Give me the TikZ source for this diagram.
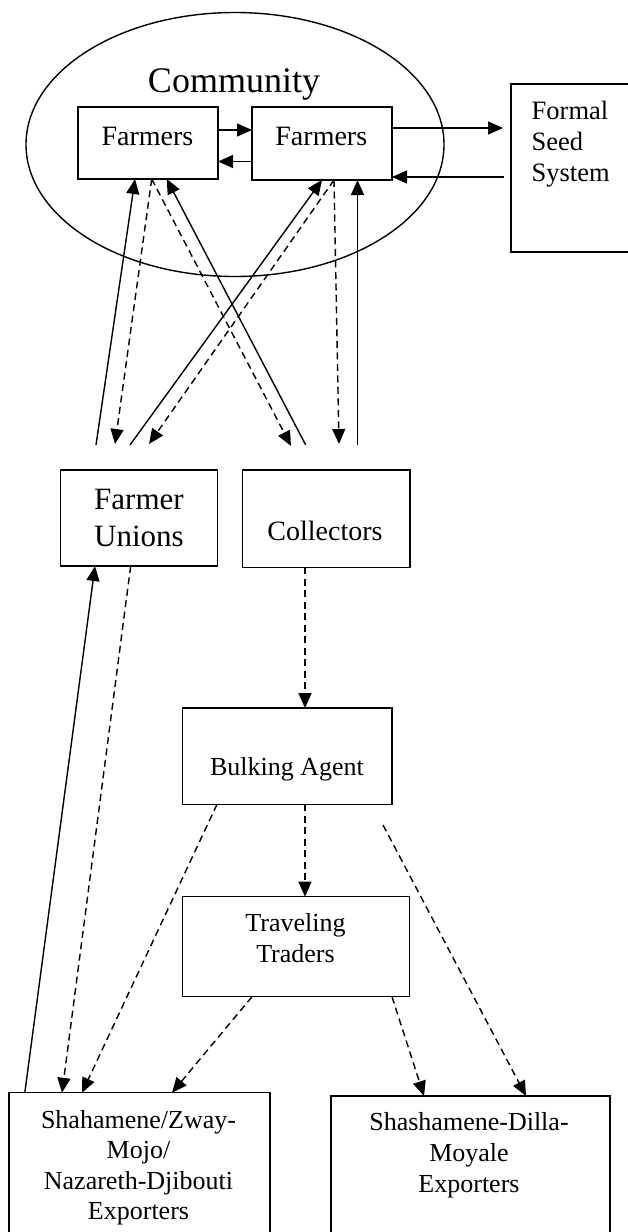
\documentclass[tikz,border=0pt]{standalone}
\usepackage{fontspec}
\setmainfont{Liberation Serif}
\usetikzlibrary{arrows.meta,shapes.geometric}
\begin{document}
\begin{tikzpicture}[x=1pt,y=-1pt,line width=1.4pt,
  box/.style={draw,rectangle,inner sep=0pt,outer sep=0pt},
  lbl/.style={anchor=base,align=center,inner sep=0pt},
  sol/.style={-{Triangle[length=15pt,width=13pt]}},
  dsh/.style={sol,dash pattern=on 7pt off 4.5pt}]
\useasboundingbox (0,0) rectangle (628,1232);

% community
\node[ellipse,draw,minimum width=418pt,minimum height=264pt,inner sep=0pt] (comm) at (235,144.5) {};
\node[lbl,font=\fontsize{36}{40}\selectfont] (commtxt) at (234,92) {Community};

% boxes
\node[box,minimum width=140pt,minimum height=72pt] (f1) at (148,143) {};
\node[box,minimum width=140pt,minimum height=73pt] (f2) at (322,143.5) {};
\node[box,minimum width=129pt,minimum height=168pt] (formal) at (575.5,168) {};
\node[box,minimum width=156.6pt,minimum height=96pt] (fu) at (139,518) {};
\node[box,minimum width=167.7pt,minimum height=97.3pt] (coll) at (326.2,518.7) {};
\node[box,minimum width=209.3pt,minimum height=96.3pt] (bulk) at (287.3,756.2) {};
\node[box,minimum width=226.9pt,minimum height=100pt] (trav) at (295.9,946.7) {};
\node[box,minimum width=261.2pt,minimum height=157.3pt] (shah) at (139.4,1171.4) {};
\node[box,minimum width=279pt,minimum height=154pt] (dilla) at (470.5,1173) {};

% texts (base anchor = baseline of the last line)
\node[lbl,font=\fontsize{28}{32}\selectfont] (f1txt) at (147.5,145) {Farmers};
\node[lbl,font=\fontsize{28}{32}\selectfont] (f2txt) at (321.3,145) {Farmers};
\node[anchor=base west,align=left,inner sep=0pt,font=\fontsize{26.5}{31}\selectfont] (formaltxt) at (531,181) {Formal\\Seed\\System};
\node[lbl,font=\fontsize{31}{37.4}\selectfont] (futxt) at (139,546.7) {Farmer\\Unions};
\node[lbl,font=\fontsize{28}{32}\selectfont] (colltxt) at (325,540) {Collectors};
\node[lbl,font=\fontsize{26}{30}\selectfont] (bulktxt) at (287,775) {Bulking Agent};
\node[lbl,font=\fontsize{26}{31}\selectfont] (travtxt) at (295.5,962.7) {Traveling\\Traders};
\node[lbl,font=\fontsize{26}{30.3}\selectfont] (shahtxt) at (138.5,1219.3) {Shahamene/Zway-\\Mojo/\\Nazareth-Djibouti\\Exporters};
\node[lbl,font=\fontsize{26}{31.3}\selectfont] (dillatxt) at (469,1192.7) {Shashamene-Dilla-\\Moyale\\Exporters};

% free ends
\coordinate (fuA) at (96,445);
\coordinate (fuB) at (115,444);
\coordinate (fuC) at (130,445);
\coordinate (fuD) at (149,444);
\coordinate (coA) at (291,446);
\coordinate (coB) at (305.7,445);
\coordinate (coC) at (339,444);
\coordinate (coD) at (357.5,445);
\coordinate (bulkR) at (383,825);

% farmers <-> farmers
\draw[sol] ([yshift=13pt]f1.east) -- ([yshift=13pt]f1.east -| f2.west);
\draw[sol] ([yshift=-18pt]f2.west) -- ([yshift=-18pt]f2.west -| f1.east);
% farmers <-> formal
\draw[sol,shorten >=8pt] ([yshift=15.5pt]f2.east) -- ([yshift=15.5pt]f2.east -| formal.west);
\draw[sol,shorten <=7pt] ([yshift=-9pt]formal.west) -- ([yshift=-9pt]formal.west -| f2.east);

% farmers <-> unions / collectors
\draw[sol] (fuA) -- ([xshift=-13pt]f1.south);
\draw[dsh] ([xshift=3.7pt]f1.south) -- (fuB);
\draw[sol] (fuC) -- (f2.south);
\draw[dsh] ([xshift=12pt]f2.south) -- (fuD);
\draw[dsh] ([xshift=3.7pt]f1.south) -- (coA);
\draw[sol] (coB) -- ([xshift=18.7pt]f1.south);
\draw[dsh] ([xshift=12pt]f2.south) -- (coC);
\draw[sol] (coD) -- (coD |- f2.south);

% chain
\draw[dsh] ([xshift=-21.2pt]coll.south) -- ([xshift=-21.2pt]coll.south |- bulk.north);
\draw[dsh] ([xshift=17.7pt]bulk.south) -- ([xshift=17.7pt]bulk.south |- trav.north);

% to exporters
\draw[sol] ([xshift=-114.6pt]shah.north) -- ([xshift=-44pt]fu.south);
\draw[dsh] ([xshift=-8.3pt]fu.south) -- ([xshift=-77.4pt]shah.north);
\draw[dsh] ([xshift=-70.3pt]bulk.south) -- ([xshift=-57.4pt]shah.north);
\draw[dsh] (bulkR) -- ([xshift=55.5pt]dilla.north);
\draw[dsh] ([xshift=-43.9pt]trav.south) -- ([xshift=32.6pt]shah.north);
\draw[dsh] ([xshift=96.1pt]trav.south) -- ([xshift=-46.5pt]dilla.north);
\end{tikzpicture}
\end{document}
